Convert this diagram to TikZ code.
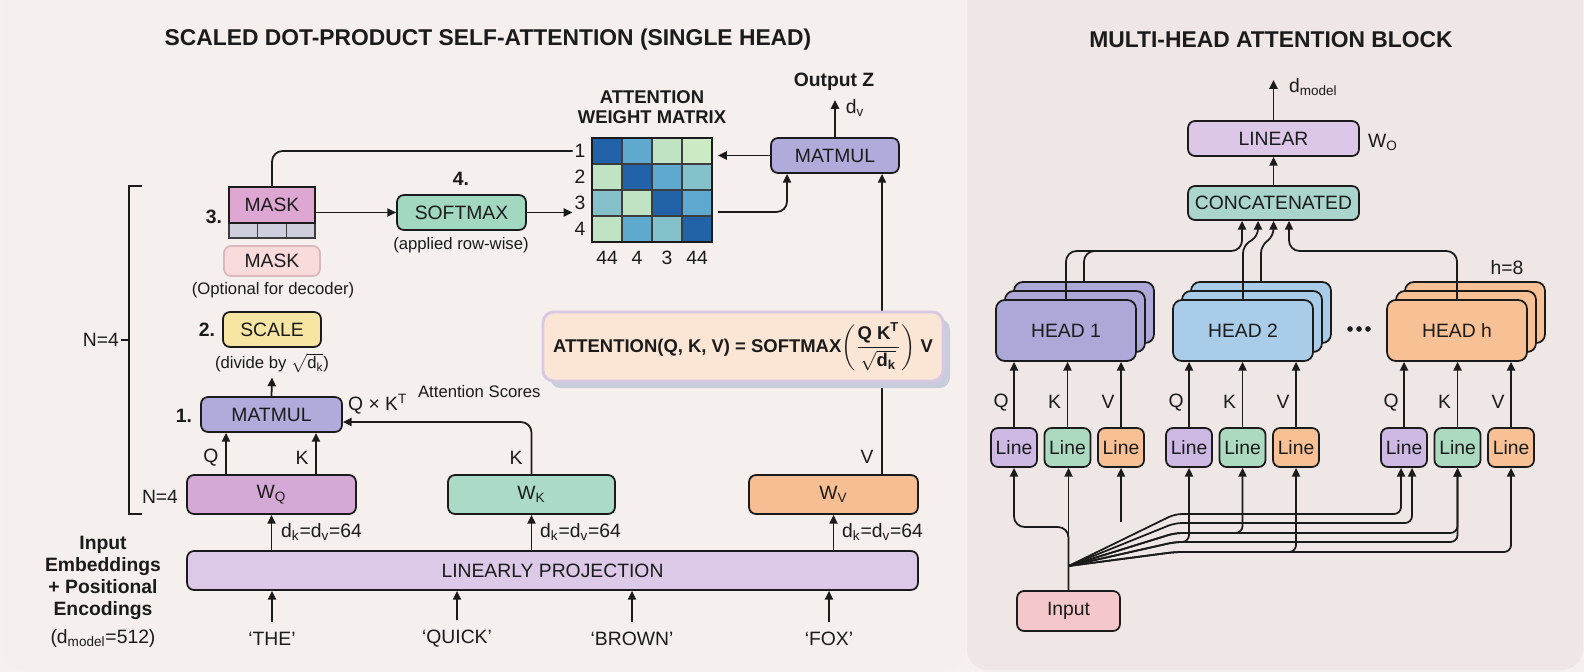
\documentclass[tikz,border=0pt]{standalone}
\usepackage{fontspec}
\setmainfont{Liberation Sans}
\usepackage{amsmath}
\usetikzlibrary{arrows.meta,shadows}

\definecolor{ink}{HTML}{1B1B1B}
\definecolor{pagebg}{HTML}{F6F1EF}
\definecolor{leftbg}{HTML}{F5EFED}
\definecolor{rightbg}{HTML}{EFE6E6}
\definecolor{cMatmul}{HTML}{B0ABDB}
\definecolor{cScale}{HTML}{F7E6A3}
\definecolor{cMaskOpt}{HTML}{F9DBDC}
\definecolor{cMaskLine}{HTML}{D9B9BE}
\definecolor{cMask}{HTML}{DDA6D3}
\definecolor{cStrip}{HTML}{CFCEDD}
\definecolor{cSoft}{HTML}{A3D8C0}
\definecolor{cWq}{HTML}{D4A9D6}
\definecolor{cWk}{HTML}{ABDAC6}
\definecolor{cWv}{HTML}{F6BE92}
\definecolor{cProj}{HTML}{DCC9E7}
\definecolor{cFm}{HTML}{FBE6D6}
\definecolor{cFmLine}{HTML}{D8C8E4}
\definecolor{cShadow}{HTML}{C9CCDA}
\definecolor{cHeadA}{HTML}{ACA8D8}
\definecolor{cHeadB}{HTML}{A9CDE8}
\definecolor{cHeadC}{HTML}{F8C195}
\definecolor{cLq}{HTML}{CDB9E4}
\definecolor{cLk}{HTML}{ABDAC0}
\definecolor{cLv}{HTML}{F8C195}
\definecolor{cLinear}{HTML}{DCC7E8}
\definecolor{cConcat}{HTML}{A9D5CD}
\definecolor{cInput}{HTML}{F4C7CA}
\definecolor{mdark}{HTML}{2162A8}
\definecolor{mmid}{HTML}{5FA8CE}
\definecolor{mteal}{HTML}{85C1CA}
\definecolor{mlg}{HTML}{BFE3C3}
\definecolor{mlt}{HTML}{CCEBC4}

\tikzset{
    txt/.style={text=ink, inner sep=1pt, font=\fontsize{11}{13}\selectfont},
    note/.style={text=ink, inner sep=1pt, font=\fontsize{9.5}{11}\selectfont},
    bold/.style={text=ink, inner sep=1pt, font=\fontsize{11}{13}\selectfont\bfseries},
    heading/.style={text=ink, font=\fontsize{13}{15}\selectfont\bfseries},
    box/.style={draw=ink, line width=1pt, rounded corners=4pt, inner sep=0pt, text=ink, font=\fontsize{11}{13}\selectfont},
    linebox/.style={box, minimum width=0.92cm, minimum height=0.78cm},
    headbox/.style={box, rounded corners=5pt, minimum width=2.8cm, minimum height=1.22cm},
    wire/.style={draw=ink, line width=1pt},
    arr/.style={wire, -{Triangle[length=5pt,width=4.6pt]}},
    cell/.style={draw=ink!85, line width=0.7pt},
    formula/.style={draw=cFmLine, line width=1.6pt, fill=cFm, rounded corners=6pt, minimum width=8cm, minimum height=1.38cm,
        drop shadow={shadow xshift=4pt, shadow yshift=-4pt, fill=cShadow, opacity=1}, text=ink, font=\fontsize{10.5}{12}\selectfont\bfseries}
}

\begin{document}
\begin{tikzpicture}[x=0.02cm, y=-0.02cm]
    \useasboundingbox (0,0) rectangle (1584,672);
    \fill[pagebg] (0,0) rectangle (1584,672);
    \fill[leftbg, rounded corners=12pt] (1,-20) rectangle (965,670);
    \fill[rightbg, rounded corners=12pt] (967,-20) rectangle (1583,670);

    \node[heading] (t1) at (488,40) {SCALED DOT-PRODUCT SELF-ATTENTION (SINGLE HEAD)};
    \node[heading] (t2) at (1271,40) {MULTI-HEAD ATTENTION BLOCK};

    \node[box, fill=cProj, minimum width=14.62cm, minimum height=0.78cm] (pr) at (552.5,570.5) {LINEARLY PROJECTION};
    \node[box, fill=cWq, minimum width=3.38cm, minimum height=0.78cm] (wq) at (271.5,494.5) {W\textsubscript{Q}};
    \node[box, fill=cWk, minimum width=3.34cm, minimum height=0.78cm] (wk) at (531.5,494.5) {W\textsubscript{K}};
    \node[box, fill=cWv, minimum width=3.38cm, minimum height=0.78cm] (wv) at (833.5,494.5) {W\textsubscript{V}};

    \foreach \n/\x/\t in {1/272/{‘THE’}, 2/457/{‘QUICK’}, 3/632/{‘BROWN’}, 4/829/{‘FOX’}} {
        \node[txt] (w\n) at (\x,639) {\t};
        \draw[arr] ([yshift=0.16cm]w\n.north) -- (w\n.north |- pr.south);
    }
    \draw[arr] (pr.north -| wq.south) -- (wq.south);
    \draw[arr] (pr.north -| wk.south) -- (wk.south);
    \draw[arr] (pr.north -| wv.south) -- (wv.south);
    \node[txt, anchor=west] at (279,532) {d\textsubscript{k}=d\textsubscript{v}=64};
    \node[txt, anchor=west] at (538,532) {d\textsubscript{k}=d\textsubscript{v}=64};
    \node[txt, anchor=west] at (840,532) {d\textsubscript{k}=d\textsubscript{v}=64};

    \node[bold, align=center, font=\fontsize{11}{12.5}\selectfont\bfseries] (inlbl) at (103,578) {Input\\Embeddings\\+ Positional\\Encodings};
    \node[txt] (dm) at (103,638) {(d\textsubscript{model}=512)};

    \draw[wire] (142,186) -- (129,186) -- (129,514) -- (142,514);
    \node[txt, anchor=east] (nb) at (121,340) {N=4};
    \draw[wire] (nb.east) -- (129,340);
    \node[txt] (na) at (160,497) {N=4};

    \node[box, fill=cMatmul, minimum width=2.82cm, minimum height=0.7cm] (mm1) at (271.5,414.5) {MATMUL};
    \node[bold] at (184,416) {1.};
    \draw[arr] ([xshift=-0.91cm]wq.north) -- ([xshift=-0.91cm]mm1.south);
    \draw[arr] ([xshift=0.89cm]wq.north) -- ([xshift=0.89cm]mm1.south);
    \node[txt] at (211,458) {Q};
    \node[txt] at (302,458) {K};
    \draw[arr, rounded corners=6pt] (wk.north) |- ([yshift=-0.15cm]mm1.east);
    \node[txt] at (516,458) {K};
    \node[txt, anchor=west] at (346,404) {Q × K\textsuperscript{T}};
    \node[note, anchor=west] at (416,392) {Attention Scores};

    \node[note] (scn) at (272,363) {(divide by $\sqrt{\text{d}_{\text{k}}}$)};
    \draw[arr] (mm1.north) -- ([yshift=-0.05cm]scn.south);
    \node[box, fill=cScale, minimum width=1.96cm, minimum height=0.7cm] (sc) at (272,329.5) {SCALE};
    \node[bold] at (207,330) {2.};

    \node[box, draw=cMaskLine, fill=cMaskOpt, minimum width=1.92cm, minimum height=0.6cm] (mo) at (272,261) {MASK};
    \node[note] at (273,290) {(Optional for decoder)};

    \foreach \i in {0,1,2} \draw[cell, fill=cStrip] (229+28.667*\i,223) rectangle ++(28.667,15);
    \node[box, sharp corners, fill=cMask, minimum width=1.72cm, minimum height=0.72cm] (mask) at (272,205) {MASK};
    \node[bold] at (214,217) {3.};

    \node[box, fill=cSoft, minimum width=2.58cm, minimum height=0.7cm] (sm) at (461.5,212.5) {SOFTMAX};
    \node[bold] at (461,179) {4.};
    \node[note] at (461,245) {(applied row-wise)};
    \draw[arr] (mask.east |- sm.west) -- (sm.west);

    \node[bold, align=center, font=\fontsize{10.5}{11.5}\selectfont\bfseries] (mt) at (652,107) {ATTENTION\\WEIGHT MATRIX};
    \foreach \row [count=\j from 0] in {{mdark,mmid,mlg,mlt},{mlg,mdark,mmid,mteal},{mteal,mlg,mdark,mmid},{mlg,mmid,mteal,mdark}} {
        \foreach \c [count=\i from 0] in \row {
            \draw[cell, fill=\c] (592+30*\i,138+26*\j) rectangle ++(30,26);
        }
    }
    \draw[wire] (592,138) rectangle (712,242);
    \foreach \k in {1,...,4} \node[txt] (r\k) at (580,125+26*\k) {\k};
    \foreach \v [count=\i from 0] in {44,4,3,44} \node[txt] (c\i) at (607+30*\i,258) {\v};

    \draw[wire, rounded corners=6pt] (mask.north) |- (r1.west);
    \draw[arr] (sm.east) -- (sm.east -| r3.west);

    \node[box, fill=cMatmul, minimum width=2.56cm, minimum height=0.7cm] (mm2) at (835,155.5) {MATMUL};
    \coordinate (mxe) at (718,155.5);
    \coordinate (mxo) at (718,212);
    \draw[arr] (mm2.west) -- (mxe);
    \draw[arr, rounded corners=6pt] (mxo) -| ([xshift=-0.96cm]mm2.south);
    \coordinate (zout) at (835,100);
    \draw[arr] (mm2.north) -- (zout);
    \node[bold] at (834,82) {Output Z};
    \node[txt] at (855,108) {d\textsubscript{v}};

    \draw[arr] ([xshift=0.97cm]wv.north) -- ([xshift=0.94cm]mm2.south);
    \node[txt] at (867,457) {V};
    \node[formula] (fm) at (743,346.5) {ATTENTION(Q, K, V) = SOFTMAX$\left(\dfrac{\text{Q K}^{\text{T}}}{\sqrt{\text{d}_{\text{k}}}}\right)$ V};

    \node[box, fill=cLinear, minimum width=3.42cm, minimum height=0.7cm] (lin) at (1273.5,138.5) {LINEAR};
    \node[box, fill=cConcat, minimum width=3.42cm, minimum height=0.68cm] (cc) at (1273.5,203) {CONCATENATED};
    \draw[arr] (cc.north) -- (lin.south);
    \coordinate (dtop) at (1273.5,80);
    \draw[arr] (lin.north) -- (dtop);
    \node[txt, anchor=west] at (1287,87) {d\textsubscript{model}};
    \node[txt, anchor=west] at (1366,142) {W\textsubscript{O}};

    \foreach \h/\x/\c/\t in {1/1066/cHeadA/{HEAD 1}, 2/1243/cHeadB/{HEAD 2}, h/1457/cHeadC/{HEAD h}} {
        \node[headbox, fill=\c] (hd\h c) at (\x+18,312.5) {};
        \node[headbox, fill=\c] (hd\h b) at (\x+9,321.5) {};
        \node[headbox, fill=\c] (hd\h) at (\x,330.5) {\t};
    }
    \foreach \d in {-9,0,9} \fill[ink] (1359+\d,329) circle (1.6pt);
    \node[txt] at (1507,268) {h=8};

    \draw[arr, rounded corners=6pt] (hd1.north) -- (1066,251) -- (1242,251) -- ([xshift=-0.63cm]cc.south);
    \draw[wire, rounded corners=6pt] (hd1c.north) -- (1084,251) -- (1200,251);
    \draw[arr, rounded corners=4pt] (hd2.north) -- (1243,246) -- (1258,236) -- ([xshift=-0.31cm]cc.south);
    \draw[arr, rounded corners=4pt] (hd2c.north) -- (1261,246) -- (1273.5,236) -- (cc.south);
    \draw[arr, rounded corners=6pt] (hdh.north) -- (1457,251) -- (1289,251) -- ([xshift=0.31cm]cc.south);

    \foreach \h/\x in {1/1014, 2/1189, h/1404} {
        \node[linebox, fill=cLq] (lq\h) at (\x,447.5) {Line};
        \node[linebox, fill=cLk] (lk\h) at (\x+53.5,447.5) {Line};
        \node[linebox, fill=cLv] (lv\h) at (\x+107,447.5) {Line};
        \draw[arr] (lq\h.north) -- (lq\h.north |- hd\h.south);
        \draw[arr] (lk\h.north) -- (lk\h.north |- hd\h.south);
        \draw[arr] (lv\h.north) -- (lv\h.north |- hd\h.south);
        \node[txt] at ([xshift=-0.26cm,yshift=0.5cm]lq\h.north) {Q};
        \node[txt] at ([xshift=-0.26cm,yshift=0.5cm]lk\h.north) {K};
        \node[txt] at ([xshift=-0.26cm,yshift=0.5cm]lv\h.north) {V};
    }

    \node[box, fill=cInput, minimum width=2.06cm, minimum height=0.8cm] (inp) at (1068.5,611) {Input};
    \coordinate (fan) at (1068.5,566);
    \coordinate (v1in) at (1121,522);
    \draw[arr] (inp.north) -- (inp.north |- lk1.south);
    \draw[arr, rounded corners=6pt] (inp.north) -- (1068.5,527) -- (1014,527) -- (lq1.south);
    \draw[arr] (v1in) -- (lv1.south);
    \draw[arr, rounded corners=4pt] (fan) -- (1175,514) -- (1401,514) -- ([xshift=-0.06cm]lqh.south);
    \draw[arr, rounded corners=4pt] (fan) -- (1175,523) -- (1412,523) -- ([xshift=0.16cm]lqh.south);
    \draw[arr, rounded corners=4pt] (fan) -- (1175,533) -- (1457.5,533) -- (lkh.south);
    \draw[arr, rounded corners=4pt] (fan) -- (1175,533) -- (1242.5,533) -- (lk2.south);
    \draw[arr, rounded corners=4pt] (fan) -- (1175,542) -- (1457.5,542) -- (lkh.south);
    \draw[arr, rounded corners=4pt] (fan) -- (1175,542) -- (1189,542) -- (lq2.south);
    \draw[arr, rounded corners=4pt] (fan) -- (1175,552) -- (1511,552) -- (lvh.south);
    \draw[arr, rounded corners=4pt] (fan) -- (1175,552) -- (1296,552) -- (lv2.south);
\end{tikzpicture}
\end{document}
